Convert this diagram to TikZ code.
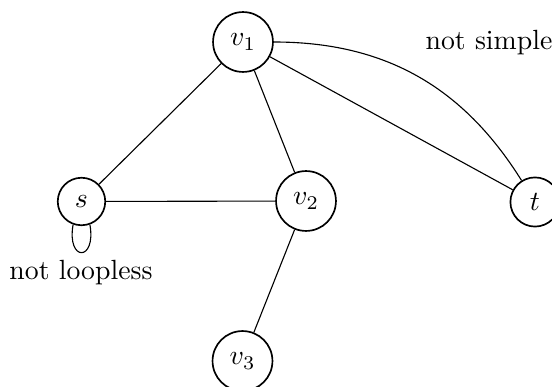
\documentclass[tikz,border=0pt]{standalone}
\begin{document}
\begin{tikzpicture}[x=0.36pt,y=0.36pt,vertex/.style={circle,draw,line width=0.6pt,inner sep=3.8pt,minimum size=16.8pt}]
		\useasboundingbox (0,0) rectangle (552,387);
		\node[vertex] (v1) at (243,345) {$v_1$};
		\node[vertex] (s) at (81.5,185.5) {$s$};
		\node[vertex] (v2) at (306,186) {$v_2$};
		\node[vertex] (t) at (535,185) {$t$};
		\node[vertex] (v3) at (242.5,26) {$v_3$};
		\draw (v1)--(s) (v1)--(v2) (v1)--(t) (s)--(v2) (v2)--(v3);
		\draw (v1) to[out=0,in=122] (t);
		\draw (s.-110) .. controls +(-100:38) and +(-80:38) .. (s.-70);
		\node (loopless) at (81,114) {not loopless};
		\node (simple) at (489,344) {not simple};
		\end{tikzpicture}
\end{document}
